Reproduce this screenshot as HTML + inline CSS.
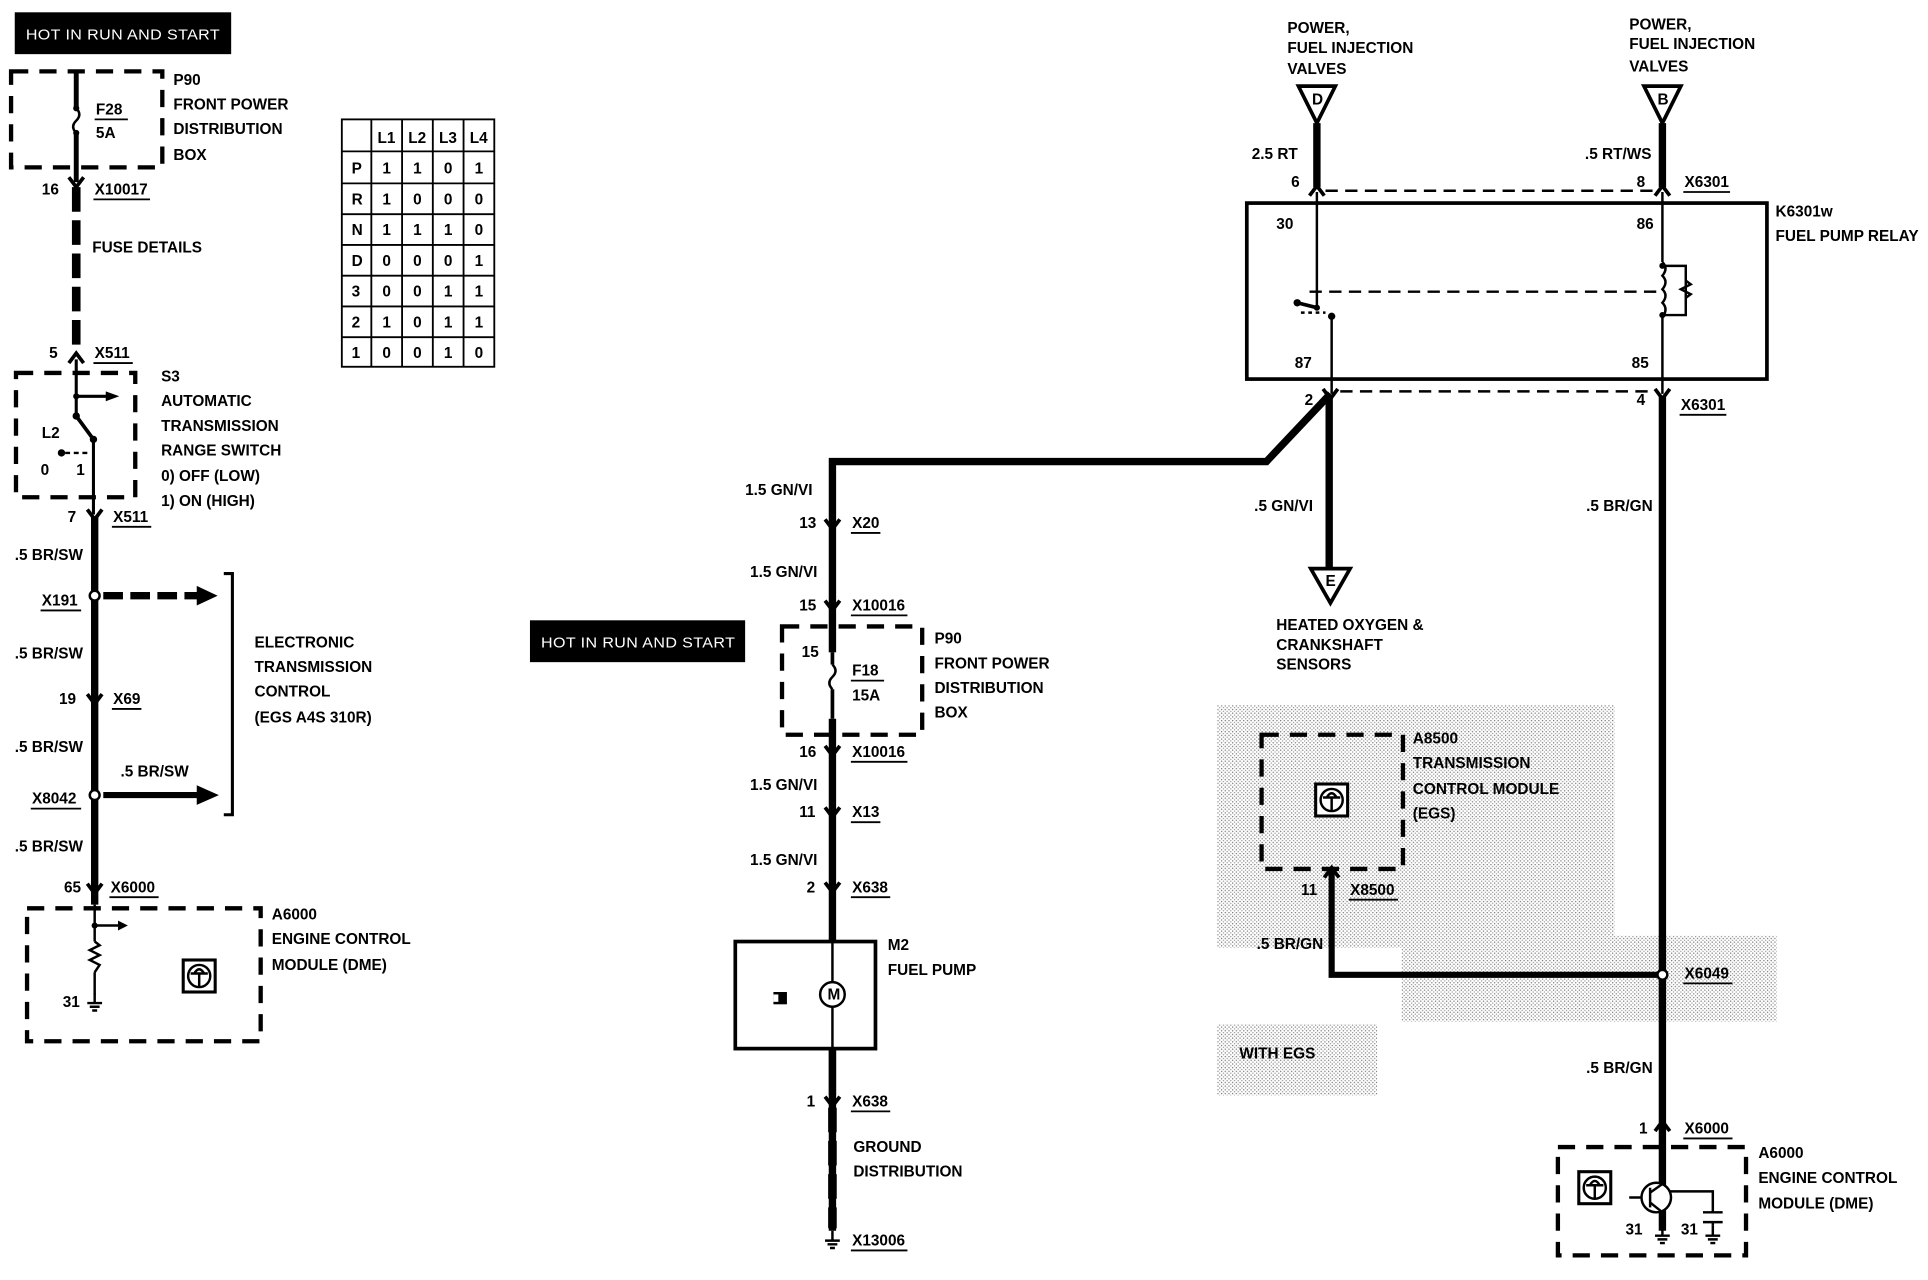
<!DOCTYPE html>
<html><head><meta charset="utf-8"><style>
html,body{margin:0;padding:0;background:#fff;}
svg{display:block;}
text{font-family:"Liberation Sans",sans-serif;font-weight:bold;font-size:12.5px;fill:#000;}
.w{fill:#fff;font-weight:normal;font-size:12px;letter-spacing:0.3px;}
</style></head><body>
<svg width="1928" height="1280" viewBox="0 0 1568 1040" preserveAspectRatio="none" xmlns="http://www.w3.org/2000/svg">
<defs>
<pattern id="dots" width="3" height="3" patternUnits="userSpaceOnUse"><rect width="3" height="3" fill="#fff"/><rect width="1" height="1" fill="#777"/><rect x="1.5" y="1.5" width="1" height="1" fill="#999"/></pattern>
<g id="ecu"><rect x="-13" y="-13" width="26" height="26" fill="#fff" stroke="#000" stroke-width="2.5"/><circle r="9" fill="none" stroke="#000" stroke-width="2"/><path d="M-7 -2 L7 -2 M0 -2 L0 9 M-4 -2 Q0 -9 4 -2" stroke="#000" stroke-width="2" fill="none"/></g>
<g id="con"><path d="M-6 -6 L0 2 L6 -6" stroke="#000" stroke-width="3" fill="none"/></g>
<g id="gnd"><path d="M0 -8 L0 0 M-6 0 L6 0 M-4 3 L4 3 M-2 6 L2 6" stroke="#000" stroke-width="2"/></g>
</defs>

<!-- shaded regions -->
<rect x="990" y="573" width="323" height="197" fill="url(#dots)"/>
<rect x="1313" y="760" width="132" height="70" fill="url(#dots)"/>
<rect x="1140" y="760" width="180" height="70" fill="url(#dots)"/>
<rect x="990" y="832" width="130" height="58" fill="url(#dots)"/>
<text x="1008" y="860">WITH EGS</text>

<!-- LEFT -->
<rect x="12" y="10" width="176" height="34" fill="#000"/>
<text x="21" y="32" class="w" textLength="158" lengthAdjust="spacingAndGlyphs">HOT  IN  RUN  AND  START</text>
<rect x="9" y="58" width="123" height="78" fill="none" stroke="#000" stroke-width="3.5" stroke-dasharray="14 9"/>
<path d="M62 58 V88 M62 108 V148" stroke="#000" stroke-width="4"/>
<path d="M62 88 q5 5 0 10 q-5 5 0 10" stroke="#000" stroke-width="2" fill="none"/>
<circle cx="62" cy="88" r="2.5"/><circle cx="62" cy="108" r="2.5"/>
<text x="78" y="93">F28</text><path d="M77 97 H104" stroke="#000" stroke-width="1.5"/>
<text x="78" y="112">5A</text>
<text x="141" y="69">P90</text><text x="141" y="89">FRONT POWER</text><text x="141" y="109">DISTRIBUTION</text><text x="141" y="130">BOX</text>
<use href="#con" x="62" y="150"/>
<text x="34" y="158">16</text><text x="77" y="158">X10017</text><path d="M76 162 H122" stroke="#000" stroke-width="1.5"/>
<path d="M62 152 V283" stroke="#000" stroke-width="7" stroke-dasharray="20 7"/>
<text x="75" y="205">FUSE DETAILS</text>
<use href="#con" x="62" y="295" transform="rotate(180 62 292)"/>
<text x="40" y="291">5</text><text x="77" y="291">X511</text><path d="M76 295 H108" stroke="#000" stroke-width="1.5"/>
<rect x="13" y="303" width="97" height="101" fill="none" stroke="#000" stroke-width="3.5" stroke-dasharray="14 9"/>
<path d="M62 292 V338 M62 322 H90" stroke="#000" stroke-width="2.5"/>
<path d="M86 318 L97 322 L86 326 Z"/>
<circle cx="62" cy="322" r="2.5"/><circle cx="62" cy="338" r="3"/>
<path d="M62 338 L76 357" stroke="#000" stroke-width="3"/><circle cx="76" cy="357" r="3"/>
<path d="M76 357 V418" stroke="#000" stroke-width="2.5"/>
<text x="34" y="356">L2</text>
<circle cx="50" cy="368" r="3"/><path d="M53 368 H72" stroke="#000" stroke-width="2" stroke-dasharray="4 3"/>
<text x="33" y="386">0</text><text x="62" y="386">1</text>
<text x="131" y="310">S3</text><text x="131" y="330">AUTOMATIC</text><text x="131" y="350">TRANSMISSION</text><text x="131" y="370">RANGE SWITCH</text><text x="131" y="391">0)   OFF (LOW)</text><text x="131" y="411">1)   ON (HIGH)</text>
<use href="#con" x="77" y="420"/>
<text x="55" y="424">7</text><text x="92" y="424">X511</text><path d="M91 428 H123" stroke="#000" stroke-width="1.5"/>
<path d="M77 420 V735" stroke="#000" stroke-width="6"/>
<text x="12" y="455">.5 BR/SW</text>
<text x="34" y="492">X191</text><path d="M33 496 H66" stroke="#000" stroke-width="1.5"/>
<circle cx="77" cy="484" r="4" fill="#fff" stroke="#000" stroke-width="2"/>
<path d="M84 484 H162" stroke="#000" stroke-width="6" stroke-dasharray="16 6"/>
<path d="M160 476 L177 484 L160 492 Z"/>
<text x="12" y="535">.5 BR/SW</text>
<use href="#con" x="77" y="570"/>
<text x="48" y="572">19</text><text x="92" y="572">X69</text><path d="M91 576 H115" stroke="#000" stroke-width="1.5"/>
<text x="12" y="611">.5 BR/SW</text>
<text x="98" y="631">.5 BR/SW</text>
<text x="26" y="653">X8042</text><path d="M25 657 H66" stroke="#000" stroke-width="1.5"/>
<circle cx="77" cy="646" r="4" fill="#fff" stroke="#000" stroke-width="2"/>
<path d="M84 646 H162" stroke="#000" stroke-width="5"/>
<path d="M160 638 L178 646 L160 654 Z"/>
<path d="M182 466 H189 V662 H182" fill="none" stroke="#000" stroke-width="2.5"/>
<text x="207" y="526">ELECTRONIC</text><text x="207" y="546">TRANSMISSION</text><text x="207" y="566">CONTROL</text><text x="207" y="587">(EGS A4S 310R)</text>
<text x="12" y="692">.5 BR/SW</text>
<use href="#con" x="77" y="724"/>
<text x="52" y="725">65</text><text x="90" y="725">X6000</text><path d="M89 729 H129" stroke="#000" stroke-width="1.5"/>
<rect x="22" y="738" width="190" height="108" fill="none" stroke="#000" stroke-width="3.5" stroke-dasharray="14 9"/>
<path d="M77 735 V765 M77 752 H98 M77 790 V808" stroke="#000" stroke-width="2"/>
<path d="M96 748 L104 752 L96 756 Z"/><circle cx="77" cy="752" r="2.5"/>
<path d="M77 765 l4 3 l-8 4 l8 4 l-8 4 l8 4 l-4 6" stroke="#000" stroke-width="2" fill="none"/>
<use href="#gnd" x="77" y="815"/>
<text x="51" y="818">31</text>
<use href="#ecu" x="162" y="793"/>
<text x="221" y="747">A6000</text><text x="221" y="767">ENGINE CONTROL</text><text x="221" y="788">MODULE (DME)</text>

<!-- TABLE -->
<g stroke="#000" stroke-width="1.5" fill="none">
<rect x="278" y="97" width="124" height="201"/>
<path d="M302 97 V298 M327 97 V298 M352 97 V298 M377 97 V298"/>
<path d="M278 123 H402 M278 149 H402 M278 174 H402 M278 199 H402 M278 224 H402 M278 249 H402 M278 274 H402"/>
</g>
<g font-size="12">
<text x="307" y="116">L1</text><text x="332" y="116">L2</text><text x="357" y="116">L3</text><text x="382" y="116">L4</text>
<text x="286" y="141">P</text><text x="311" y="141">1</text><text x="336" y="141">1</text><text x="361" y="141">0</text><text x="386" y="141">1</text>
<text x="286" y="166">R</text><text x="311" y="166">1</text><text x="336" y="166">0</text><text x="361" y="166">0</text><text x="386" y="166">0</text>
<text x="286" y="191">N</text><text x="311" y="191">1</text><text x="336" y="191">1</text><text x="361" y="191">1</text><text x="386" y="191">0</text>
<text x="286" y="216">D</text><text x="311" y="216">0</text><text x="336" y="216">0</text><text x="361" y="216">0</text><text x="386" y="216">1</text>
<text x="286" y="241">3</text><text x="311" y="241">0</text><text x="336" y="241">0</text><text x="361" y="241">1</text><text x="386" y="241">1</text>
<text x="286" y="266">2</text><text x="311" y="266">1</text><text x="336" y="266">0</text><text x="361" y="266">1</text><text x="386" y="266">1</text>
<text x="286" y="291">1</text><text x="311" y="291">0</text><text x="336" y="291">0</text><text x="361" y="291">1</text><text x="386" y="291">0</text>
</g>

<!-- MIDDLE -->
<rect x="431" y="504" width="175" height="34" fill="#000"/>
<text x="440" y="526" class="w" textLength="158" lengthAdjust="spacingAndGlyphs">HOT  IN  RUN  AND  START</text>
<path d="M677 1000 V375 H1030 L1082 320" stroke="#000" stroke-width="6" fill="none" stroke-linejoin="miter"/>
<text x="606" y="402">1.5 GN/VI</text>
<use href="#con" x="677" y="428"/><text x="650" y="429">13</text><text x="693" y="429">X20</text><path d="M692 433 H716" stroke="#000" stroke-width="1.5"/>
<text x="610" y="469">1.5 GN/VI</text>
<use href="#con" x="677" y="494"/><text x="650" y="496">15</text><text x="693" y="496">X10016</text><path d="M692 500 H738" stroke="#000" stroke-width="1.5"/>
<rect x="636" y="509" width="114" height="88" fill="none" stroke="#000" stroke-width="3.5" stroke-dasharray="14 9"/>
<rect x="672" y="530" width="10" height="54" fill="#fff"/>
<path d="M677 530 V540 M677 560 V584" stroke="#000" stroke-width="3"/>
<path d="M677 540 q5 5 0 10 q-5 5 0 10" stroke="#000" stroke-width="2" fill="none"/>
<text x="652" y="534">15</text>
<text x="693" y="549">F18</text><path d="M692 553 H719" stroke="#000" stroke-width="1.5"/>
<text x="693" y="569">15A</text>
<text x="760" y="523">P90</text><text x="760" y="543">FRONT POWER</text><text x="760" y="563">DISTRIBUTION</text><text x="760" y="583">BOX</text>
<use href="#con" x="677" y="612"/><text x="650" y="615">16</text><text x="693" y="615">X10016</text><path d="M692 619 H738" stroke="#000" stroke-width="1.5"/>
<text x="610" y="642">1.5 GN/VI</text>
<use href="#con" x="677" y="662"/><text x="650" y="664">11</text><text x="693" y="664">X13</text><path d="M692 668 H716" stroke="#000" stroke-width="1.5"/>
<text x="610" y="703">1.5 GN/VI</text>
<use href="#con" x="677" y="723"/><text x="656" y="725">2</text><text x="693" y="725">X638</text><path d="M692 729 H724" stroke="#000" stroke-width="1.5"/>
<rect x="598" y="765" width="114" height="87" fill="#fff" stroke="#000" stroke-width="3"/>
<path d="M677 765 V798 M677 818 V852" stroke="#000" stroke-width="2"/>
<circle cx="677" cy="808" r="10" fill="#fff" stroke="#000" stroke-width="2"/>
<text x="673" y="812" font-size="9">M</text>
<rect x="629" y="806" width="11" height="10" fill="#000"/><rect x="629" y="808" width="4" height="6" fill="#fff"/>
<text x="722" y="772">M2</text><text x="722" y="792">FUEL PUMP</text>
<path d="M677 852 V890" stroke="#000" stroke-width="6"/>
<use href="#con" x="677" y="897"/><text x="656" y="899">1</text><text x="693" y="899">X638</text><path d="M692 903 H724" stroke="#000" stroke-width="1.5"/>
<path d="M677 900 V998" stroke="#000" stroke-width="7" stroke-dasharray="20 7"/>
<text x="694" y="936">GROUND</text><text x="694" y="956">DISTRIBUTION</text>
<use href="#gnd" x="677" y="1008"/>
<text x="693" y="1012">X13006</text><path d="M692 1016 H738" stroke="#000" stroke-width="1.5"/>

<!-- RIGHT -->
<text x="1047" y="27">POWER,</text><text x="1047" y="43">FUEL INJECTION</text><text x="1047" y="60">VALVES</text>
<text x="1325" y="24">POWER,</text><text x="1325" y="40">FUEL INJECTION</text><text x="1325" y="58">VALVES</text>
<path d="M1056 70 L1086 70 L1071 100 Z" fill="#fff" stroke="#000" stroke-width="3"/>
<text x="1067" y="85" font-size="10">D</text>
<path d="M1337 70 L1367 70 L1352 100 Z" fill="#fff" stroke="#000" stroke-width="3"/>
<text x="1348" y="85" font-size="10">B</text>
<path d="M1071 100 V152 M1352 100 V152" stroke="#000" stroke-width="6"/>
<text x="1018" y="129">2.5 RT</text><text x="1050" y="152">6</text>
<text x="1289" y="129">.5 RT/WS</text><text x="1331" y="152">8</text>
<text x="1370" y="152">X6301</text><path d="M1369 156 H1407" stroke="#000" stroke-width="1.5"/>
<use href="#con" x="1071" y="159" transform="rotate(180 1071 156)"/>
<use href="#con" x="1352" y="159" transform="rotate(180 1352 156)"/>
<path d="M1078 155 H1345" stroke="#000" stroke-width="2" stroke-dasharray="10 6"/>
<rect x="1014" y="165" width="423" height="143" fill="none" stroke="#000" stroke-width="3"/>
<text x="1038" y="186">30</text><text x="1331" y="186">86</text><text x="1053" y="299">87</text><text x="1327" y="299">85</text>
<text x="1444" y="176">K6301w</text><text x="1444" y="196">FUEL PUMP RELAY</text>
<path d="M1071 156 V250 M1352 156 V213 M1352 258 V320" stroke="#000" stroke-width="2"/>
<path d="M1071 250 L1055 246" stroke="#000" stroke-width="3"/>
<circle cx="1071" cy="250" r="2.5"/><circle cx="1055" cy="246" r="3"/>
<path d="M1058 254 H1078" stroke="#000" stroke-width="2" stroke-dasharray="3 3"/>
<circle cx="1083" cy="257" r="3"/>
<path d="M1083 257 V320" stroke="#000" stroke-width="2"/>
<path d="M1065 237 H1350" stroke="#000" stroke-width="2" stroke-dasharray="10 6"/>
<path d="M1352 213 q5 5 0 11 q5 5 0 11 q5 5 0 11 q5 5 0 12" stroke="#000" stroke-width="2" fill="none"/>
<path d="M1352 216 H1371 V256 H1352" stroke="#000" stroke-width="2" fill="none"/>
<path d="M1371 228 l4 3 l-8 4 l8 4 l-4 3" stroke="#000" stroke-width="2" fill="none"/>
<circle cx="1352" cy="216" r="2.5"/><circle cx="1352" cy="256" r="2.5"/>
<path d="M1090 318 H1345" stroke="#000" stroke-width="2" stroke-dasharray="10 6"/>
<use href="#con" x="1082" y="322"/><use href="#con" x="1352" y="322"/>
<text x="1061" y="329">2</text><text x="1331" y="329">4</text>
<text x="1367" y="333">X6301</text><path d="M1366 337 H1404" stroke="#000" stroke-width="1.5"/>
<path d="M1081 322 V462" stroke="#000" stroke-width="6"/>
<path d="M1066 462 L1098 462 L1082 490 Z" fill="#fff" stroke="#000" stroke-width="3"/>
<text x="1078" y="476" font-size="10">E</text>
<text x="1020" y="415">.5 GN/VI</text>
<text x="1038" y="512">HEATED OXYGEN &amp;</text><text x="1038" y="528">CRANKSHAFT</text><text x="1038" y="544">SENSORS</text>
<path d="M1352 322 V1000" stroke="#000" stroke-width="6"/>
<text x="1290" y="415">.5 BR/GN</text>
<rect x="1026" y="597" width="115" height="109" fill="none" stroke="#000" stroke-width="3.5" stroke-dasharray="14 9"/>
<use href="#ecu" x="1083" y="650"/>
<text x="1149" y="604">A8500</text><text x="1149" y="624">TRANSMISSION</text><text x="1149" y="645">CONTROL MODULE</text><text x="1149" y="665">(EGS)</text>
<path d="M1083 706 V792 H1352" stroke="#000" stroke-width="5" fill="none"/>
<use href="#con" x="1083" y="713" transform="rotate(180 1083 710)"/>
<text x="1058" y="727">11</text><text x="1098" y="727">X8500</text><path d="M1097 731 H1137" stroke="#000" stroke-width="1.5"/>
<text x="1022" y="771">.5 BR/GN</text>
<circle cx="1352" cy="792" r="4" fill="#fff" stroke="#000" stroke-width="2"/>
<text x="1370" y="795">X6049</text><path d="M1369 799 H1409" stroke="#000" stroke-width="1.5"/>
<text x="1290" y="872">.5 BR/GN</text>
<use href="#con" x="1352" y="919" transform="rotate(180 1352 916)"/>
<text x="1333" y="921">1</text><text x="1370" y="921">X6000</text><path d="M1369 925 H1409" stroke="#000" stroke-width="1.5"/>
<rect x="1267" y="932" width="153" height="88" fill="none" stroke="#000" stroke-width="3.5" stroke-dasharray="14 9"/>
<use href="#ecu" x="1297" y="965"/>
<path d="M1352 916 V961 M1352 968 H1393 V985 M1393 993 V996 M1352 985 V996 M1325 973 H1335" stroke="#000" stroke-width="2" fill="none"/>
<circle cx="1352" cy="968" r="2.5"/>
<circle cx="1347" cy="973" r="12" fill="#fff" stroke="#000" stroke-width="2"/>
<path d="M1342 965 V981 M1342 969 L1352 962 M1342 977 L1352 985" stroke="#000" stroke-width="2"/>
<path d="M1385 985 H1401 M1385 993 H1401" stroke="#000" stroke-width="2"/>
<use href="#gnd" x="1352" y="1004"/><use href="#gnd" x="1393" y="1004"/>
<text x="1322" y="1003">31</text><text x="1367" y="1003">31</text>
<text x="1430" y="941">A6000</text><text x="1430" y="961">ENGINE CONTROL</text><text x="1430" y="982">MODULE (DME)</text>
</svg>
</body></html>
